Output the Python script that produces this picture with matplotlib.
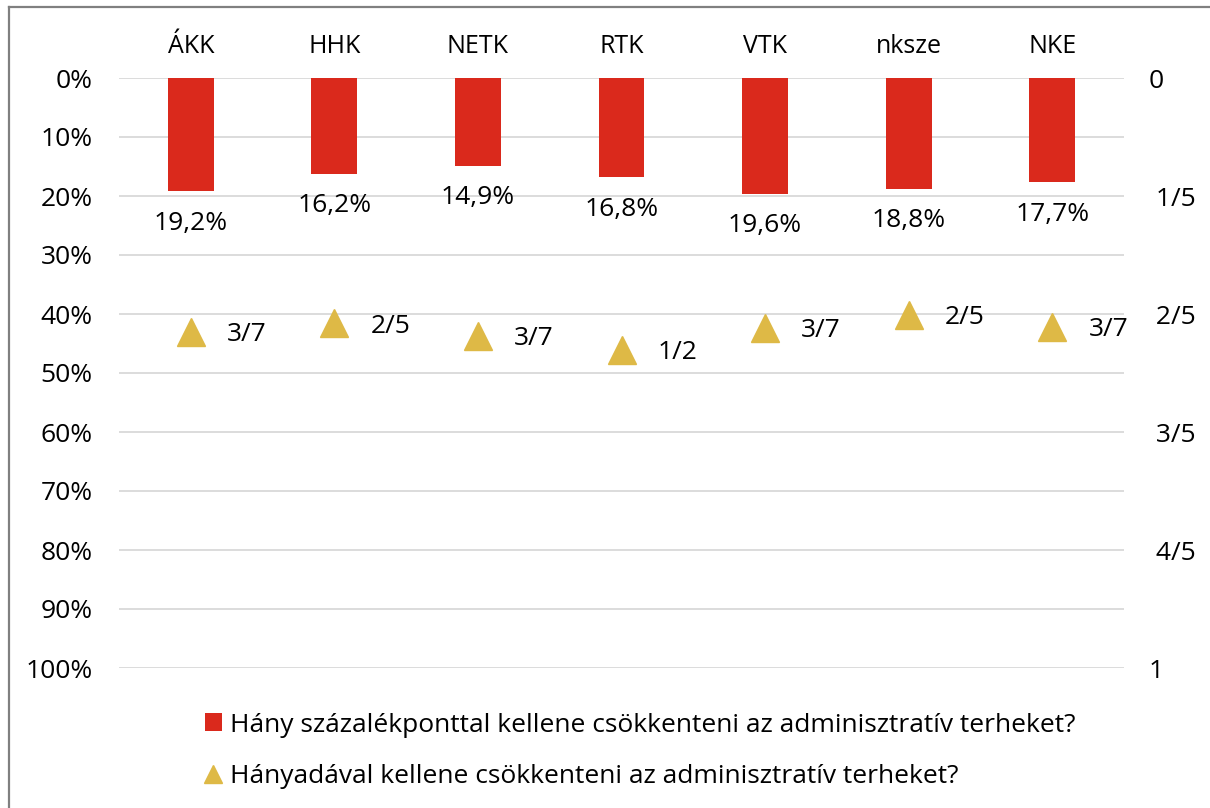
import matplotlib.pyplot as plt
from matplotlib.lines import Line2D
from matplotlib.patches import Patch

plt.rcParams["font.family"] = ["Open Sans", "DejaVu Sans"]

categories = ["ÁKK", "HHK", "NETK", "RTK", "VTK", "nksze", "NKE"]
# percentage-point reduction (bars, left axis)
pct_values = [0.192, 0.162, 0.149, 0.168, 0.196, 0.188, 0.177]
pct_labels = ["19,2%", "16,2%", "14,9%", "16,8%", "19,6%", "18,8%", "17,7%"]
# fraction reduction (triangles, right axis)
frac_values = [0.430, 0.416, 0.437, 0.461, 0.424, 0.402, 0.422]
frac_labels = ["3/7", "2/5", "3/7", "1/2", "3/7", "2/5", "3/7"]

left_ticks = [i / 10 for i in range(11)]
left_ticklabels = [f"{i * 10}%" for i in range(11)]
right_ticks = [0, 0.2, 0.4, 0.6, 0.8, 1.0]
right_ticklabels = ["0", " 1/5", " 2/5", " 3/5", " 4/5", "1"]

legend_labels = [
    "Hány százalékponttal kellene csökkenteni az adminisztratív terheket?",
    "Hányadával kellene csökkenteni az adminisztratív terheket?",
]

RED = "#DA291C"
GOLD = "#DEB946"
GRID = "#D9D9D9"
FS = 19

fig = plt.figure(figsize=(12.1, 8.08), dpi=100)
ax = fig.add_axes([119 / 1210, 1 - 668 / 808, 1005 / 1210, 590 / 808])
x = list(range(len(categories)))

ax.bar(x, pct_values, width=0.32, color=RED, zorder=3)
for xi, v, lab in zip(x, pct_values, pct_labels):
    ax.annotate(lab, (xi, v), xytext=(0, -23), textcoords="offset points",
                ha="center", va="center", fontsize=FS)

ax.set_xlim(-0.5, len(categories) - 0.5)
ax.set_ylim(1, 0)
ax.set_yticks(left_ticks)
ax.set_yticklabels(left_ticklabels, fontsize=FS)
ax.xaxis.tick_top()
ax.set_xticks(x)
ax.set_xticklabels(categories, fontsize=18)
ax.tick_params(axis="both", length=0)
ax.tick_params(axis="y", pad=19)
ax.tick_params(axis="x", pad=14)
ax.grid(axis="y", color=GRID, linewidth=1.3, zorder=0)
for s in ax.spines.values():
    s.set_visible(False)

ax2 = ax.twinx()
ax2.set_ylim(1, 0)
ax2.plot(x, frac_values, linestyle="none", marker="^", markersize=20,
         color=GOLD, zorder=4)
for xi, v, lab in zip(x, frac_values, frac_labels):
    ax2.annotate(lab, (xi, v), xytext=(26, -2), textcoords="offset points",
                 ha="left", va="center", fontsize=FS)
ax2.set_yticks(right_ticks)
ax2.set_yticklabels(right_ticklabels, fontsize=FS)
ax2.tick_params(axis="y", length=0, pad=18)
for s in ax2.spines.values():
    s.set_visible(False)

handles = [
    Patch(facecolor=RED, edgecolor="none"),
    Line2D([], [], linestyle="none", marker="^", markersize=13, color=GOLD),
]
fig.legend(handles, legend_labels, loc="upper left",
           bbox_to_anchor=(194 / 1210, 1 - 702 / 808), frameon=False,
           fontsize=FS, handlelength=0.65, handleheight=0.65,
           handletextpad=0.3, labelspacing=1.0, borderaxespad=0)

# chart border (left and top edges visible)
fig.add_artist(Line2D([8.5 / 1210, 8.5 / 1210], [0, 1 - 6.5 / 808],
                      transform=fig.transFigure, color="#808080", linewidth=1.6))
fig.add_artist(Line2D([8.5 / 1210, 1], [1 - 6.5 / 808, 1 - 6.5 / 808],
                      transform=fig.transFigure, color="#808080", linewidth=1.6))

fig.savefig("out.png", dpi=100)
